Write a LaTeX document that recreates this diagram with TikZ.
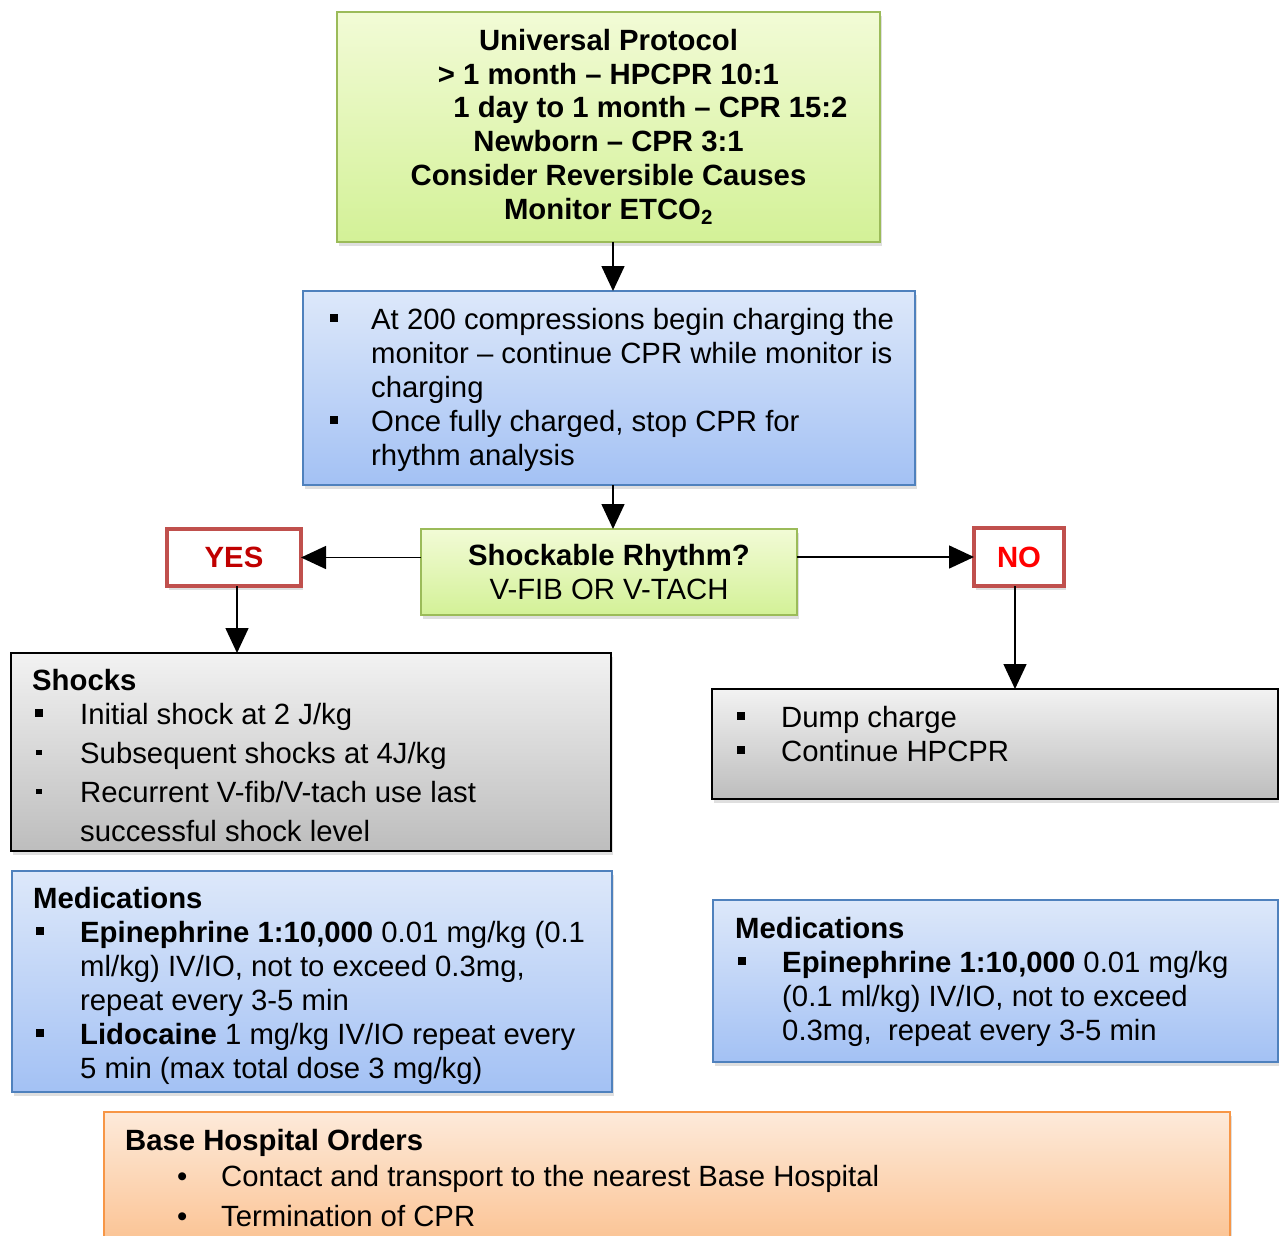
\documentclass[tikz,border=0pt]{standalone}
\usepackage{fontspec}
\setmainfont{Liberation Sans}
\usetikzlibrary{arrows.meta,shadows}
\definecolor{gTop}{HTML}{F2FBD6}
\definecolor{gBot}{HTML}{D3F197}
\definecolor{gBd}{HTML}{9BBB59}
\definecolor{bTop}{HTML}{DDE8FA}
\definecolor{bBot}{HTML}{A3C1F4}
\definecolor{bBd}{HTML}{4F81BD}
\definecolor{kTop}{HTML}{F2F2F2}
\definecolor{kBot}{HTML}{BDBDBD}
\definecolor{oTop}{HTML}{FDEADA}
\definecolor{oBot}{HTML}{FBBF8C}
\definecolor{oBd}{HTML}{F79646}
\definecolor{rBd}{HTML}{C0504D}
\definecolor{yesRed}{HTML}{C00000}
\definecolor{noRed}{HTML}{FF0000}
\newcommand\fs[1]{\fontsize{29.3pt}{#1pt}\selectfont}
\newcommand\Bsq{\makebox[41pt][l]{\rule[7.5pt]{7.5pt}{7.5pt}}}
\newcommand\Bsqb{\makebox[44pt][l]{\rule[7.5pt]{7.5pt}{7.5pt}}}
\newcommand\Bsqs{\makebox[45pt][l]{\hspace{1pt}\rule[8pt]{5.5pt}{5.5pt}}}
\newcommand\Bsqf{\makebox[45pt][l]{\rule[7.5pt]{7.5pt}{7.5pt}}}
\newcommand\Bdot{\makebox[44pt][l]{•}}
\tikzset{
  box/.style={inner sep=0pt, outer sep=0pt, anchor=north west, line width=2pt,
    drop shadow={opacity=0.25, shadow xshift=2pt, shadow yshift=-4pt}},
  greenbox/.style={box, draw=gBd, top color=gTop, bottom color=gBot},
  bluebox/.style={box, draw=bBd, top color=bTop, bottom color=bBot},
  graybox/.style={box, draw=black, line width=1.6pt, top color=kTop, bottom color=kBot},
  orangebox/.style={box, draw=oBd, top color=oTop, bottom color=oBot},
  redbox/.style={box, draw=rBd, line width=3.5pt, fill=white},
  txt/.style={anchor=base west, inner sep=0pt},
  arr/.style={line width=1.5pt, -{Triangle[length=25pt,width=23pt]}}
}
\begin{document}
\begin{tikzpicture}[x=1pt,y=-1pt]
\useasboundingbox (0,0) rectangle (1279,1235);
\fill[white] (0,0) rectangle (1279,1235);

% boxes
\node[greenbox, minimum width=543pt, minimum height=230pt, align=center, font=\fs{33.8}\bfseries]
  (top) at (337,12) {Universal Protocol\\
  > 1 month -- HPCPR 10:1\\
  \hspace*{84pt}1 day to 1 month -- CPR 15:2\\
  Newborn -- CPR 3:1\\
  Consider Reversible Causes\\
  Monitor ETCO\textsubscript{2}};

\node[bluebox, minimum width=612pt, minimum height=194pt] (blue1) at (303,291) {};

\node[greenbox, minimum width=376pt, minimum height=86pt, align=center, font=\fs{33.5}]
  (decide) at (421,529) {\textbf{Shockable Rhythm?}\\V-FIB OR V-TACH};

\node[redbox, minimum width=134pt, minimum height=57pt, font=\fs{34}\bfseries, text=yesRed]
  (yes) at (167,529) {YES};
\node[redbox, minimum width=90pt, minimum height=58pt, font=\fs{34}\bfseries, text=noRed]
  (no) at (974,528) {NO};

\node[graybox, minimum width=600pt, minimum height=198pt] (shocks) at (11,653) {};
\node[graybox, minimum width=566pt, minimum height=110pt] (dump) at (712,689) {};
\node[bluebox, minimum width=600pt, minimum height=221pt] (medsL) at (12,871) {};
\node[bluebox, minimum width=565pt, minimum height=162pt] (medsR) at (713,900) {};
\node[orangebox, minimum width=1126pt, minimum height=145pt] (base) at (104,1112) {};

% texts
\node[txt, font=\fs{34}] (blue1txt) at (330,329) {\begin{tabular}[t]{@{}l@{}l@{}}
\Bsq & At 200 compressions begin charging the\\
 & monitor -- continue CPR while monitor is\\
 & charging\\
\Bsq & Once fully charged, stop CPR for\\
 & rhythm analysis
\end{tabular}};

\node[txt, font=\fs{34}\bfseries] (shockshd) at (32,690) {Shocks};
\node[txt, font=\fs{39}] (shockstxt) at (35,724) {\begin{tabular}[t]{@{}l@{}l@{}}
\Bsqf & Initial shock at 2 J/kg\\
\Bsqs & Subsequent shocks at 4J/kg\\
\Bsqs & Recurrent V-fib/V-tach use last\\
 & successful shock level
\end{tabular}};

\node[txt, font=\fs{34}] (dumptxt) at (737,727) {\begin{tabular}[t]{@{}l@{}l@{}}
\Bsqb & Dump charge\\
\Bsqb & Continue HPCPR
\end{tabular}};

\node[txt, font=\fs{34}\bfseries] (medsLhd) at (33,908) {Medications};
\node[txt, font=\fs{34}] (medsLtxt) at (36,942) {\begin{tabular}[t]{@{}l@{}l@{}}
\Bsqb & \textbf{Epinephrine 1:10,000} 0.01 mg/kg (0.1\\
 & ml/kg) IV/IO, not to exceed 0.3mg,\\
 & repeat every 3-5 min\\
\Bsqb & \textbf{Lidocaine} 1 mg/kg IV/IO repeat every\\
 & 5 min (max total dose 3 mg/kg)
\end{tabular}};

\node[txt, font=\fs{34}\bfseries] (medsRhd) at (735,938) {Medications};
\node[txt, font=\fs{34}] (medsRtxt) at (738,972) {\begin{tabular}[t]{@{}l@{}l@{}}
\Bsqb & \textbf{Epinephrine 1:10,000} 0.01 mg/kg\\
 & (0.1 ml/kg) IV/IO, not to exceed\\
 & 0.3mg,\ \ repeat every 3-5 min
\end{tabular}};

\node[txt, font=\fs{34}\bfseries] (basehd) at (125,1150) {Base Hospital Orders};
\node[txt, font=\fs{40}] (basetxt) at (177,1186) {\begin{tabular}[t]{@{}l@{}l@{}}
\Bdot & Contact and transport to the nearest Base Hospital\\
\Bdot & Termination of CPR
\end{tabular}};

% connectors
\coordinate (cx) at (613,0);
\coordinate (yx) at (237,0);
\coordinate (nx) at (1015,0);
\draw[arr] (cx |- top.south) -- (cx |- blue1.north);
\draw[arr] (cx |- blue1.south) -- (cx |- decide.north);
\draw[arr] (yes.east -| decide.west) -- (yes.east);
\draw[arr] (no.west -| decide.east) -- (no.west);
\draw[arr] (yx |- yes.south) -- (yx |- shocks.north);
\draw[arr] (nx |- no.south) -- (nx |- dump.north);
\end{tikzpicture}
\end{document}
